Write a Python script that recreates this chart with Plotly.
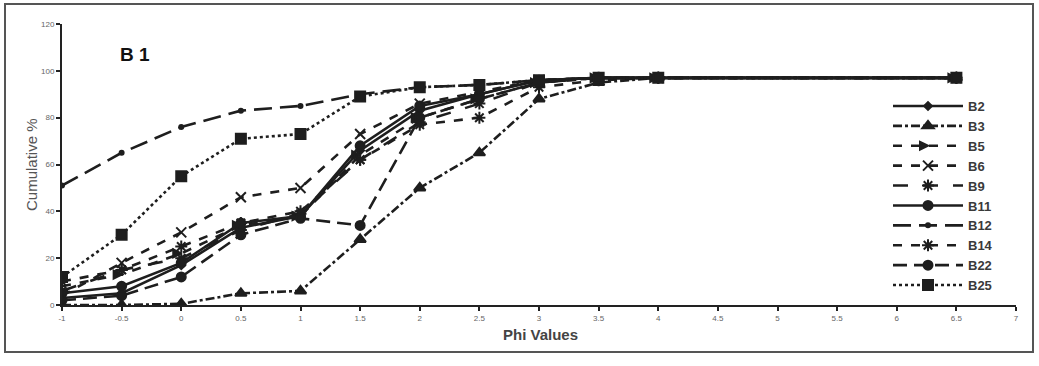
import plotly.graph_objects as go

phi = [-1, -0.5, 0, 0.5, 1, 1.5, 2, 2.5, 3, 3.5, 4, 6.5]

B2 = [3, 5, 17, 33, 38, 66, 83, 90, 96, 97, 97, 97]
B3 = [0, 0, 0.5, 5, 6, 28, 50, 65, 88, 95, 97, 97]
B5 = [8, 13, 22, 34, 38, 64, 80, 88, 95, 97, 97, 97]
B6 = [4, 18, 31, 46, 50, 73, 86, 91, 96, 97, 97, 97]
B9 = [6, 15, 20, 32, 39, 62, 78, 86, 95, 97, 97, 97]
B11 = [5, 8, 18, 35, 38, 68, 85, 90, 96, 97, 97, 97]
B12 = [51, 65, 76, 83, 85, 90, 93, 94, 96, 97, 97, 97]
B14 = [10, 15, 25, 35, 40, 62, 77, 80, 93, 96, 97, 97]
B22 = [2, 4, 12, 30, 37, 34, 80, 88, 95, 97, 97, 97]
B25 = [12, 30, 55, 71, 73, 89, 93, 94, 96, 97, 97, 97]

tick_vals = [-1, -0.5, 0, 0.5, 1, 1.5, 2, 2.5, 3, 3.5, 4, 4.5, 5, 5.5, 6, 6.5, 7]
tick_text = ["-1", "-0.5", "0", "0.5", "1", "1.5", "2", "2.5", "3", "3.5", "4",
             "4.5", "5", "5.5", "6", "6.5", "7"]
y_ticks = [0, 20, 40, 60, 80, 100, 120]

series = [
    ("B2", B2, "solid", "diamond", 6),
    ("B3", B3, "dashdot", "triangle-up", 10),
    ("B5", B5, "dash", "arrow-right", 8),
    ("B6", B6, "dash", "x-thin-open", 10),
    ("B9", B9, "longdash", "asterisk-open", 10),
    ("B11", B11, "solid", "circle", 9),
    ("B12", B12, "18px,8px", "circle", 4),
    ("B14", B14, "dash", "asterisk-open", 10),
    ("B22", B22, "14px,7px", "circle", 9),
    ("B25", B25, "dot", "square", 10),
]

ink = "#1e1e1e"
fig = go.Figure()
for name, vals, dash, sym, size in series:
    fig.add_trace(go.Scatter(
        x=phi, y=vals, name=name, mode="lines+markers",
        line=dict(color=ink, width=2.6, dash=dash),
        marker=dict(symbol=sym, size=size, color=ink,
                    line=dict(color=ink, width=2)),
    ))

W, H = 1039, 366
L, R, T, B = 62, 1016, 24, 305
pw, ph = R - L, B - T

def px(xp):
    return (xp - L) / pw

def py(yp):
    return (B - yp) / ph

fig.update_layout(
    width=W, height=H,
    margin=dict(l=L, r=W - R, t=T, b=H - B),
    paper_bgcolor="white", plot_bgcolor="white",
    font=dict(family="Liberation Sans, Arial, sans-serif", color="#333"),
    showlegend=True,
    legend=dict(
        x=px(888), y=py(91), xanchor="left", yanchor="top",
        bgcolor="rgba(255,255,255,0)", borderwidth=0,
        font=dict(size=13, color="#3a3a3a", family="Liberation Sans, Arial, sans-serif", weight="bold"),
        itemwidth=70, tracegroupgap=0,
    ),
    xaxis=dict(
        range=[-1, 7], tickmode="array", tickvals=tick_vals, ticktext=tick_text,
        showgrid=False, zeroline=False, showline=True, linecolor="#222", linewidth=2,
        ticks="outside", ticklen=4, tickcolor="#222", tickwidth=1.5,
        tickfont=dict(size=8, color="#666"),
    ),
    yaxis=dict(
        range=[0, 120], tickmode="array", tickvals=y_ticks,
        showgrid=False, zeroline=False, showline=True, linecolor="#222", linewidth=2,
        ticks="outside", ticklen=4, tickcolor="#222", tickwidth=1.5,
        tickfont=dict(size=8, color="#666"),
    ),
    shapes=[dict(
        type="rect", xref="paper", yref="paper",
        x0=px(5), x1=px(1033), y0=py(352), y1=py(4),
        line=dict(color="#555", width=2), fillcolor="rgba(0,0,0,0)", layer="below",
    )],
    annotations=[
        dict(text="<b>B 1</b>", xref="paper", yref="paper", x=px(135), y=py(55),
             xanchor="center", yanchor="middle",
             showarrow=False, font=dict(size=19, color="#111")),
        dict(text="<b>Phi Values</b>", xref="paper", yref="paper", x=px(540), y=py(334),
             xanchor="center", yanchor="middle",
             showarrow=False, font=dict(size=15, color="#444")),
        dict(text="Cumulative %", xref="paper", yref="paper", x=px(31), y=py(165),
             xanchor="center", yanchor="middle",
             showarrow=False, textangle=-90, font=dict(size=15, color="#555")),
    ],
)

fig.write_html(
    "out.html",
    config={"displayModeBar": False},
    post_script="document.body.style.margin='0';document.body.style.overflow='hidden';",
)
